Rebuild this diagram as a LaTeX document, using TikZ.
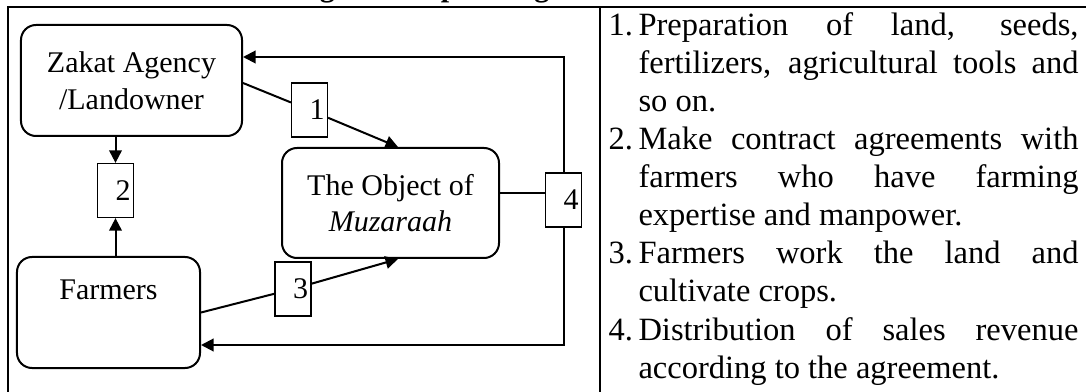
\documentclass[tikz,border=0pt]{standalone}
\usepackage{fontspec}
\setmainfont{Liberation Serif}
\usetikzlibrary{positioning,arrows.meta,calc}
\tikzset{
  flowarrow/.style={-{Triangle[length=5pt, width=5pt]}, line width=0.8pt},
  flowline/.style={line width=0.8pt},
  thinline/.style={line width=0.5pt},
  frameline/.style={line width=0.9pt},
  mainbox/.style={draw, rounded corners=6pt, line width=0.8pt, fill=white, align=center, font=\fontsize{12}{14.7}\selectfont},
  numbox/.style={draw, line width=0.5pt, fill=white, minimum height=21.6pt, text width=12pt, inner xsep=1.2pt, inner ysep=0pt, align=right, font=\fontsize{12}{14}\selectfont},
  listtext/.style={text width=188pt, inner sep=0pt, align=justify, font=\fontsize{13}{15.2}\selectfont},
  titletext/.style={inner sep=0pt, font=\fontsize{12}{14}\selectfont\bfseries}
}
\newcommand{\itemnum}[1]{\hangindent=12pt\hangafter=1\noindent\makebox[12pt][l]{#1}}

\begin{document}
\begin{tikzpicture}[x=0.4pt, y=-0.4pt]
  \useasboundingbox (0,0) rectangle (1086,392);
  \clip (0,0) rectangle (1086,392);
  % caption, cut off by the page edge
  \node[titletext, anchor=base] (title) at (550,-3) {Figure 1. Operating Model of \textit{Muzaraah}};
  % table frame
  \draw[frameline] (8,392) -- (8,7) -- (1086,7);
  \draw[frameline] (600,7) -- (600,392);

  % flow diagram
  \node[mainbox, minimum width=88.4pt, minimum height=44.4pt] (zakat) at (131.5,80.5) {Zakat Agency\\/Landowner};
  \node[mainbox, minimum width=86.8pt, minimum height=44pt] (object) at (390.5,203) {The Object of\\\textit{Muzaraah}};
  \node[mainbox, minimum width=73.2pt, minimum height=44.4pt, text height=8pt, text depth=18.5pt] (farmers) at (108.5,312.5) {Farmers};
  \node[numbox] (n1) at (309.5,110) {1};
  \node[numbox] (n2) at (115.5,190.5) {2};
  \node[numbox] (n3) at (293,289) {3};
  \node[numbox] (n4) at (563.5,200) {4};
  \coordinate (o4) at ($(object.east)+(0,-10)$);

  \draw[flowline] ($(zakat.east)+(0,2.5)$) -- (n1);
  \draw[flowarrow] (n1) -- ($(object.north)+(7.5,0)$);
  \draw[flowarrow] (zakat.south -| n2) -- (n2);
  \draw[flowarrow] (farmers.north -| n2) -- (n2);
  \draw[flowline] (farmers.east) -- (n3);
  \draw[flowarrow] (n3) -- ($(object.south)+(7.5,0)$);
  \draw[thinline] (o4) -- (o4 -| n4.west);
  \draw[flowarrow] (n4.north) |- ($(zakat.east)+(0,-23.5)$);
  \draw[flowarrow] (n4.south) |- ($(farmers.east)+(0,32.5)$);

  % steps
  \node[listtext, anchor=base west] (steps) at (608,36) {\tolerance=10000
    \itemnum{1.}Preparation of land, seeds,\linebreak fertilizers, agricultural tools and\linebreak so on.\par
    \itemnum{2.}Make contract agreements with\linebreak farmers who have farming\linebreak expertise and manpower.\par
    \itemnum{3.}Farmers work the land and\linebreak cultivate crops.\par
    \itemnum{4.}Distribution of sales revenue\linebreak according to the agreement.\par};
\end{tikzpicture}
\end{document}
